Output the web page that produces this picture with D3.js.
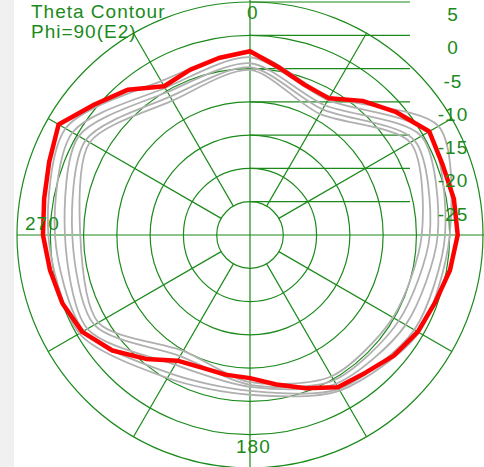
<!DOCTYPE html>
<html><head><meta charset="utf-8">
<script src="https://cdn.jsdelivr.net/npm/d3@7"></script>
<style>html,body{margin:0;padding:0;background:#fff;}svg{display:block;}</style>
</head><body>
<script>
// ---- data ----
const redAngles = d3.range(0, 360, 10);
const redValues = [-2.4,-4.5,-6.0,-6.3,-3.7,-1.3,1.1,0.8,1.1,1.2,0.5,-0.4,-0.9,-1.8,-3.0,-3.6,-5.5,-7.2,
                   -8.5,-8.7,-8.8,-8.2,-5.7,-3.0,-0.9,0.0,0.5,1.1,1.4,2.1,3.2,0.5,-1.5,-4.2,-3.6,-3.0];
const grayAngles = d3.range(0, 360, 30);
const grayValues = [
  [-2.7,-6.0, 2.7, 0.0,-0.7,-3.0,-6.0,-5.2,-0.4, 0.3, 2.0,-3.3],
  [-3.3,-6.6, 0.8,-0.7,-1.5,-3.3,-6.6,-6.0,-1.2,-0.7, 0.8,-4.5],
  [-4.2,-7.5,-0.3,-1.8,-3.0,-4.2,-7.2,-7.5,-1.8,-2.2,-0.3,-5.2],
  [-4.8,-8.2,-1.5,-3.0,-4.2,-4.8,-7.5,-9.0,-3.0,-3.3,-1.5,-6.0],
  [-5.2,-9.0,-2.2,-4.2,-5.2,-5.5,-7.9,-9.9,-3.7,-4.5,-2.2,-6.7]
];
const ringTicks = [5,0,-5,-10,-15,-20,-25];
const angleLabels = ["0","270","180"];
const titleLines = ["Theta Contour","Phi=90(E2)"];

// ---- chart ----
const W = 484, H = 467, cx = 250, cy = 235, R = 233;
const green = "#1b8a1b";
const svg = d3.select("body").append("svg").attr("width", W).attr("height", H);
svg.append("rect").attr("x",0).attr("y",0).attr("width",14).attr("height",H).attr("fill","#f0f0f0");

const r = d3.scaleLinear().domain([-30, 5]).range([0, R]);
const g = svg.append("g").attr("transform", `translate(${cx},${cy})`);

// right-side horizontal scale lines
g.selectAll(".hl").data(ringTicks).join("line")
  .attr("x1", 0).attr("x2", 160).attr("y1", d => -r(d)).attr("y2", d => -r(d))
  .attr("stroke", green).attr("stroke-width", 1.2);
// rings
g.selectAll(".ring").data(ringTicks).join("circle")
  .attr("r", d => r(d)).attr("fill","none").attr("stroke", green).attr("stroke-width", 1.2);
// spokes
const spokeAngles = [30,60,120,150,210,240,300,330];
g.selectAll(".spoke").data(spokeAngles).join("line")
  .attr("x1", d => r(-25)*Math.sin(d*Math.PI/180)).attr("y1", d => -r(-25)*Math.cos(d*Math.PI/180))
  .attr("x2", d => r(5)*Math.sin(d*Math.PI/180)).attr("y2", d => -r(5)*Math.cos(d*Math.PI/180))
  .attr("stroke", green).attr("stroke-width", 1.2);
// axes
g.append("line").attr("x1",0).attr("x2",0).attr("y1",-cy).attr("y2",H-cy).attr("stroke",green).attr("stroke-width",1.2);
g.append("line").attr("x1",-R).attr("x2",W-cx).attr("y1",0).attr("y2",0).attr("stroke",green).attr("stroke-width",1.2);

// gray curves
const grayLine = d3.lineRadial().curve(d3.curveCardinalClosed.tension(0.2))
  .angle(d => d[0]*Math.PI/180).radius(d => r(d[1]));
grayValues.forEach(vals => {
  g.append("path").attr("d", grayLine(grayAngles.map((a,i)=>[a, vals[i]])))
    .attr("fill","none").attr("stroke","#b0b0b0").attr("stroke-width",1.8);
});
// red curve
const redLine = d3.lineRadial().curve(d3.curveLinearClosed)
  .angle(d => d[0]*Math.PI/180).radius(d => r(d[1]));
g.append("path").attr("d", redLine(redAngles.map((a,i)=>[a, redValues[i]])))
  .attr("fill","none").attr("stroke","#ff0000").attr("stroke-width",4.5).attr("stroke-linejoin","round");

// texts
const font = "'Liberation Sans', Arial, sans-serif";
g.selectAll(".tl").data(ringTicks).join("text")
  .attr("x", 203).attr("y", d => -r(d) + 19).attr("text-anchor","middle")
  .attr("font-family", font).attr("font-size", 19).attr("letter-spacing", 1).attr("fill", green)
  .text(d => d);
const alPos = [[-3, -216, "start"], [-225, -5, "start"], [-14, 218, "start"]];
g.selectAll(".al").data(angleLabels).join("text")
  .attr("x", (d,i) => alPos[i][0]).attr("y", (d,i) => alPos[i][1]).attr("text-anchor", (d,i)=>alPos[i][2])
  .attr("font-family", font).attr("font-size", 19).attr("letter-spacing", 1).attr("fill", green)
  .text(d => d);
svg.selectAll(".tt").data(titleLines).join("text")
  .attr("x", 31).attr("y", (d,i) => 18 + i*20)
  .attr("font-family", font).attr("font-size", 19).attr("letter-spacing", 1).attr("fill", green)
  .text(d => d);
</script>
</body></html>
